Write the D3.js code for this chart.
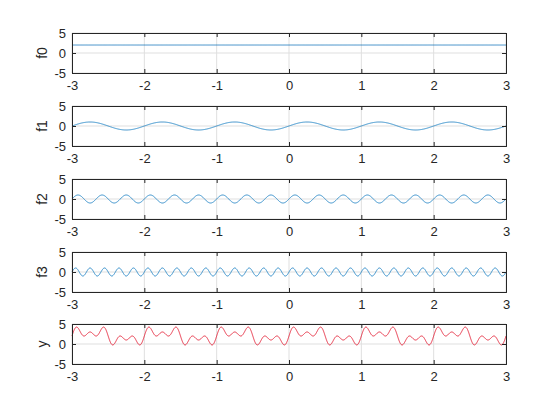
<!DOCTYPE html>
<html>
<head>
<meta charset="utf-8">
<script src="https://cdn.jsdelivr.net/npm/d3@7"></script>
<style>
body { margin: 0; background: #fff; }
text { font-family: "Liberation Sans", Arial, sans-serif; }
</style>
</head>
<body>
<svg id="chart" width="560" height="420"></svg>
<script>
"use strict"

// panel labels and the component parameters
let panelNames = ["f0", "f1", "f2", "f3", "y"];
let offsets = [2, 0, 0, 0];
let amplitudes = [0, 1, 1, 1];
let frequencies = [0, 1, 3, 5]; // cycles per unit x
let xTicks = [-3, -2, -1, 0, 1, 2, 3];
let yTicks = [-5, 0, 5];
let panelTops = [33, 106, 179, 252, 324];

let svg = d3.select("#chart");
let left = 72, right = 506, panelH = 40;

let xs = d3.range(-3, 3.0001, 0.002);
function component(i, x) {
    return offsets[i] + amplitudes[i] * Math.sin(2 * Math.PI * frequencies[i] * x);
}
let series = [0, 1, 2, 3].map(i => xs.map(x => [x, component(i, x)]));
series.push(xs.map((x, k) => [x, d3.sum(series, s => s[k][1])]));

let x = d3.scaleLinear().domain([-3, 3]).range([left, right]);
let fmt = d => String(d); // plain hyphen minus, as in the picture

panelNames.forEach(function(name, i) {
    let top = panelTops[i];
    let y = d3.scaleLinear().domain([-5, 5]).range([top + panelH, top]);
    let g = svg.append("g");

    // grid
    g.selectAll(".gx").data(xTicks).enter().append("line")
        .attr("x1", d => x(d)).attr("x2", d => x(d))
        .attr("y1", top).attr("y2", top + panelH)
        .attr("stroke", "#dfdfdf").attr("stroke-width", 1);
    g.selectAll(".gy").data(yTicks).enter().append("line")
        .attr("x1", left).attr("x2", right)
        .attr("y1", d => y(d)).attr("y2", d => y(d))
        .attr("stroke", "#dfdfdf").attr("stroke-width", 1);

    g.append("path")
        .datum(series[i])
        .attr("fill", "none")
        .attr("stroke", name === "y" ? "#e0001b" : "#0072bd")
        .attr("stroke-width", 0.8)
        .attr("d", d3.line().x(d => x(d[0])).y(d => y(d[1])));

    let xAxis = g.append("g").attr("transform", "translate(0," + (top + panelH) + ")")
        .call(d3.axisBottom(x).tickValues(xTicks).tickSize(-4).tickPadding(8).tickFormat(fmt));
    g.append("g").attr("transform", "translate(" + left + ",0)")
        .call(d3.axisLeft(y).tickValues(yTicks).tickSize(-4).tickPadding(6).tickFormat(fmt));
    g.append("g").attr("transform", "translate(0," + top + ")")
        .call(d3.axisTop(x).tickValues(xTicks).tickSize(-4).tickFormat(""));
    g.append("g").attr("transform", "translate(" + right + ",0)")
        .call(d3.axisRight(y).tickValues(yTicks).tickSize(-4).tickFormat(""));

    g.selectAll(".domain").attr("stroke", "#262626");
    g.selectAll(".tick line").attr("stroke", "#262626");
    g.selectAll(".tick text").attr("fill", "#262626").style("font-size", "13px")
        .style("font-family", "Liberation Sans, Arial, sans-serif");
    xAxis.selectAll(".tick text").attr("dy", "0.71em");

    g.append("text")
        .attr("transform", "translate(47," + (top + panelH / 2) + ") rotate(-90)")
        .attr("text-anchor", "middle")
        .attr("fill", "#262626")
        .style("font-size", "14px")
        .text(name);
});
</script>
</body>
</html>
